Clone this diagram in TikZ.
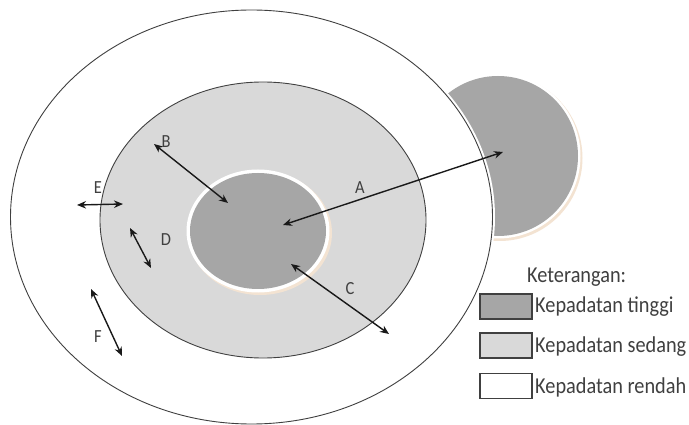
\documentclass[tikz,border=0pt]{standalone}
\usepackage{fontspec}
\setmainfont{Carlito}
\usepackage{graphicx}
\usetikzlibrary{arrows.meta,shapes.geometric}
\definecolor{darkfill}{HTML}{A6A6A6}
\definecolor{lightfill}{HTML}{D9D9D9}
\definecolor{edge}{HTML}{404040}
\definecolor{txt}{HTML}{404040}
\definecolor{shadowtan}{HTML}{E2B98F}
\newcommand{\tallt}[1]{\scalebox{1}[1.12]{#1}}
\tikzset{
  region/.style={ellipse, inner sep=0pt, outer sep=0pt},
  dbl/.style={{Stealth[length=9pt,width=7.5pt]}-{Stealth[length=9pt,width=7.5pt]}, line width=1.4pt, black!90},
  lbl/.style={font=\fontsize{16.5}{18}\selectfont, text=txt, inner sep=0pt},
  legtxt/.style={font=\fontsize{20.3}{22}\selectfont, text=txt, inner sep=0pt, anchor=west},
  legbox/.style={draw=edge, line width=1.2pt, minimum width=52pt, minimum height=25pt, inner sep=0pt}
}
\begin{document}
\begin{tikzpicture}[x=1pt,y=-1pt]
\useasboundingbox (0,0) rectangle (689,425);
\fill[white] (0,0) rectangle (689,425);
% right high-density blob (partly behind outer ring)
\node[region, fill=shadowtan!40, minimum width=166pt, minimum height=166pt] (rshadow) at (499.5,158) {};
\node[region, fill=white, minimum width=165pt, minimum height=165pt] (rring) at (498,156) {};
\node[region, fill=darkfill, minimum width=160pt, minimum height=160pt] (rcore) at (498,156) {};
% outer (low density) ellipse
\node[region, fill=white, draw=white, line width=5pt, minimum width=482pt, minimum height=414pt] (outerglow) at (251.5,217) {};
\node[region, draw=edge, line width=0.9pt, minimum width=482pt, minimum height=414pt] (outer) at (251.5,217) {};
% middle (medium density) ellipse
\node[region, fill=lightfill, draw=edge, line width=0.9pt, minimum width=326pt, minimum height=276pt] (middle) at (263,220) {};
% inner (high density) ellipse
\node[region, fill=shadowtan!40, minimum width=144pt, minimum height=124pt] (ishadow) at (260,233) {};
\node[region, fill=white, minimum width=143pt, minimum height=123pt] (iring) at (258,231) {};
\node[region, fill=darkfill, minimum width=136pt, minimum height=116pt] (inner) at (258,231) {};
% arrow end points
\coordinate (a1) at (283,225); \coordinate (a2) at (503,152);
\coordinate (b1) at (154,144); \coordinate (b2) at (228,203);
\coordinate (c1) at (291,264); \coordinate (c2) at (389,334);
\coordinate (d1) at (130,228); \coordinate (d2) at (151,268);
\coordinate (e1) at (77,205);  \coordinate (e2) at (123,204);
\coordinate (f1) at (91,289);  \coordinate (f2) at (122,356);
\draw[dbl] (a1) -- (a2);
\draw[dbl] (b1) -- (b2);
\draw[dbl] (c1) -- (c2);
\draw[dbl] (d1) -- (d2);
\draw[dbl] (e1) -- (e2);
\draw[dbl] (f1) -- (f2);
% labels
\node[lbl] (la) at (360,188) {\tallt{A}};
\node[lbl] (lb) at (166,142) {\tallt{B}};
\node[lbl] (lc) at (350,289) {\tallt{C}};
\node[lbl] (ld) at (166,240) {\tallt{D}};
\node[lbl] (le) at (98,188) {\tallt{E}};
\node[lbl] (lf) at (98,337) {\tallt{F}};
% legend
\node[legtxt] (ket) at (527,277) {\tallt{Keterangan:}};
\node[legbox, fill=darkfill] (box1) at (506,306.5) {};
\node[legbox, fill=lightfill] (box2) at (506,345.5) {};
\node[legbox, fill=white] (box3) at (506,386) {};
\node[legtxt] (t1) at (535,307) {\tallt{Kepadatan tinggi}};
\node[legtxt] (t2) at (535,347) {\tallt{Kepadatan sedang}};
\node[legtxt] (t3) at (535,387) {\tallt{Kepadatan rendah}};
\end{tikzpicture}
\end{document}
